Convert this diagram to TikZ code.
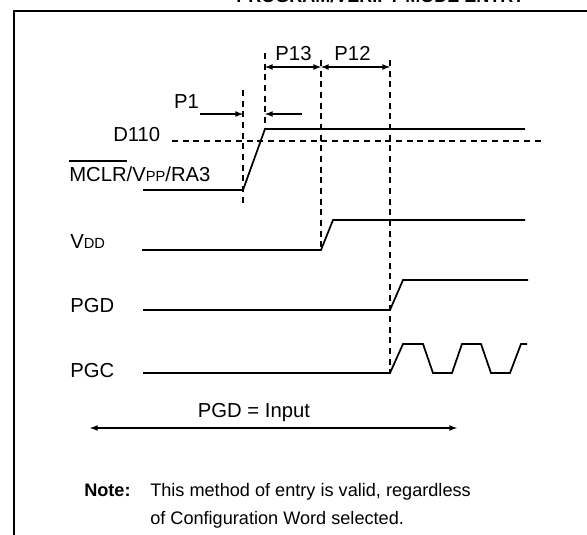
\documentclass[tikz,border=0pt]{standalone}
\usepackage{fontspec}
\setmainfont{Liberation Sans}
\usetikzlibrary{arrows}

\newlength\barwd
\newcommand{\ovl}[1]{\settowidth{\barwd}{#1}\rlap{\rule[15.2pt]{\barwd}{1.1pt}}#1}
\newcommand{\lblfont}{\fontsize{15.2}{18}\selectfont}
\newcommand{\subfont}{\fontsize{11}{13}\selectfont}
\newcommand{\notefont}{\fontsize{13.6}{16}\selectfont}

\begin{document}
\begin{tikzpicture}[x=0.75pt,y=0.75pt,yscale=-1,xscale=1,
  wave/.style={line width=1.3pt},
  guide/.style={line width=1.4pt,dash pattern=on 4.5pt off 3.5pt},
  dim/.style={line width=1pt},
  lbl/.style={inner sep=0pt,font=\lblfont},
  notelbl/.style={inner sep=0pt,anchor=base west,font=\notefont}]
\useasboundingbox (0,0) rectangle (587,535);

%Frame
\draw[line width=1.8pt] (14,560) -- (14,11) -- (600,11);
% Title
\node[inner sep=0pt,anchor=base east,font=\fontsize{13.5}{16}\selectfont\bfseries] (title) at (525,3) {PROGRAM/VERIFY MODE ENTRY};

%Edge points
\coordinate (p1) at (243,190);
\coordinate (p1top) at (265,129);
\coordinate (vdd) at (321,250);
\coordinate (pgd) at (390,310);
\coordinate (pgc) at (390,373);

%Waveform: MCLR
\draw[wave] (143,190) -- (p1) -- (p1top) -- (525,129);
%Waveform: VDD
\draw[wave] (142,250) -- (vdd) -- (333,220) -- (525,220);
%Waveform: PGD
\draw[wave] (143,310) -- (pgd) -- (403,280) -- (528,280);
%Waveform: PGC
\draw[wave] (143,373) -- (pgc) -- (403,344) -- (423,344) -- (433,373) -- (452,373) -- (462,344) -- (481,344) -- (491,373) -- (510,373) -- (521,344) -- (527,344);

%Dashed guides
\draw[guide] (172,141) -- (545,141);
\draw[guide] (243,90) -- (243,207);
\draw[guide] (265,53) -- (p1top);
\draw[guide] (321,60) -- (vdd);
\draw[guide] (390,60) -- (pgc);

%Dimension arrows
\coordinate (a13) at (265,67);
\coordinate (a12) at (321,67);
\coordinate (a12e) at (390,67);
\draw[dim,latex-latex] (a13) -- (a12);
\draw[dim,latex-latex] (a12) -- (a12e);
\draw[dim,-latex] (200,114) -- (243,114);
\draw[dim,-latex] (302,114) -- (265,114);
\draw[dim,latex-latex] (90,428) -- (457,428);

% Text Node
\node[lbl] (t13) at (293.5,53.5) {P13};
\node[lbl] (t12) at (352.5,53.5) {P12};
\node[lbl] (t1) at (186.5,101.5) {P1};
\node[lbl,anchor=base west] (d110) at (113,142) {D110};
\node[lbl,anchor=base west] (mclr) at (69,182) {\ovl{MCLR}/V{\subfont PP}/RA3};
\node[lbl,anchor=base west] (vddl) at (70,249) {V{\subfont DD}};
\node[lbl,anchor=base west] (pgdl) at (70,313) {PGD};
\node[lbl,anchor=base west] (pgcl) at (70,378) {PGC};
\node[lbl] (input) at (254,413) {PGD = Input};
\node[notelbl,font=\notefont\bfseries] (note) at (84,497) {Note:};
\node[notelbl] (note1) at (150,497) {This method of entry is valid, regardless};
\node[notelbl] (note2) at (150,525) {of Configuration Word selected.};

\end{tikzpicture}
\end{document}
